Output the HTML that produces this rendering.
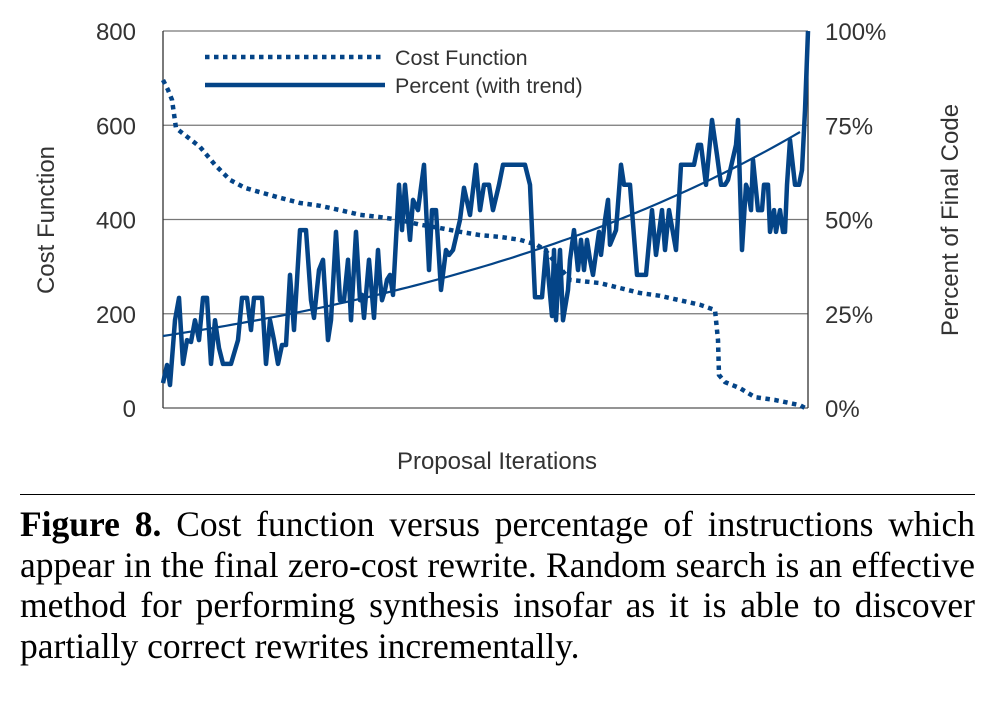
<!DOCTYPE html>
<html><head><meta charset="utf-8"><style>
body{margin:0;background:#fff;width:1004px;height:701px;overflow:hidden;position:relative}
svg{position:absolute;left:0;top:0}
.cap{position:absolute;left:20px;width:955px;top:504px;font-family:"Liberation Serif",serif;font-size:35.5px;line-height:40.5px;color:#000}
.cap div{text-align:justify;text-align-last:justify;white-space:nowrap;height:40.5px}
.cap div.last{text-align-last:left}
</style></head><body>
<svg id="chart" width="1004" height="500" font-family="Liberation Sans, sans-serif"></svg>
<div style="position:absolute;left:20px;top:494px;width:955px;height:1px;background:#000"></div>
<div class="cap">
<div><b>Figure 8.</b> Cost function versus percentage of instructions which</div>
<div>appear in the final zero-cost rewrite. Random search is an effective</div>
<div>method for performing synthesis insofar as it is able to discover</div>
<div class="last">partially correct rewrites incrementally.</div>
</div>
<script>
const leftTicks=[0,200,400,600,800];
const rightTicks=["0%","25%","50%","75%","100%"];
const costIter=[0,5,9,13,22,37,52,67,82,97,117,137,157,177,197,217,237,257,277,297,317,337,357,374,382,407,437,477,497,537,552,555,556,562,577,592,612,637,642];
const costVal=[696,675,654,594,579,554,516,484,467,458,446,435,429,420,410,405,399,389,382,374,367,363,357,346,335,272,265,244,238,219,208,144,70,55,42,23,17,6,0];
const pctIter=[0,4,7,12,16,20,24,28,32,36,40,44,48,52,56,60,68,75,79,84,88,91,99,103,107,111,115,119,123,127,131,137,143,148,151,156,160,165,168,173,177,181,185,188,193,197,199,201,206,209,211,215,217,219,222,224,227,230,236,239,242,247,250,255,261,266,269,273,278,283,286,290,297,301,307,313,317,321,326,330,336,340,362,367,372,379,383,389,391,393,397,400,405,407,411,415,418,421,424,427,430,436,438,442,445,447,453,458,461,467,474,483,489,493,499,502,506,513,518,527,531,535,538,543,549,554,558,562,565,573,575,579,583,585,588,590,595,599,601,605,607,611,613,617,620,622,624,627,632,636,639,642,645];
const pctVal=[6.6,11.4,6.1,23.3,29.2,11.7,18,17.5,23.3,18,29.2,29.2,11.7,23.3,15.9,11.7,11.7,18,29.2,29.2,20.7,29.2,29.2,11.7,23.3,18,11.7,16.7,16.7,35.3,20.7,47.2,47.2,28.6,23.9,36.6,39.3,18,23.3,46.7,28.6,28.6,39.3,23.3,46.7,28.6,30,23.9,39.3,30,23.9,41.9,34,28.6,31.3,34,35.3,30,59.2,47.2,59.2,44.6,55.2,52.5,64.5,36.6,52.5,52.5,31.3,41.9,40.6,41.9,49.9,58.4,51.2,64.5,52.5,59.2,59.2,52.5,59.2,64.5,64.5,59.2,29.4,29.4,41.9,24.4,41.9,23.3,41.9,23.3,31.3,39.3,47.2,36.6,44.6,36.6,44.6,39.3,35.3,46.7,40.6,49.9,55.2,43.3,47.2,64.5,59.2,59.2,35.3,35.3,52.5,40.6,52.5,41.9,52.5,41.9,64.5,64.5,64.5,69.8,69.8,59.2,76.4,67.1,59.2,59.2,60.5,69.8,76.4,41.9,59.2,57.8,52.5,65.8,52.5,52.5,59.2,59.2,46.7,52.5,46.7,52.5,46.7,46.7,59.2,71.1,59.2,59.2,63.1,79,100];
const trendIter=[0,637];
const trendVal=[19.1,73.2];
const NS="http://www.w3.org/2000/svg";
const svg=document.getElementById('chart');
const X0=163,X1=808,YB=408,YT=31,IMAX=645;
const xs=i=>X0+i/IMAX*(X1-X0);
const yL=v=>YB-v/800*(YB-YT);
const yR=p=>YB-p/100*(YB-YT);
function mk(t,a,txt){const e=document.createElementNS(NS,t);for(const k in a)e.setAttribute(k,a[k]);if(txt!==undefined)e.textContent=txt;svg.appendChild(e);return e;}
leftTicks.forEach((v,k)=>{
 const g=mk('line',{x1:X0,x2:X1,y1:yL(v),y2:yL(v),stroke:v===0?'#555':'#777','stroke-width':1.3});
 
 
 const t=mk('text',{x:136,y:yL(v)+9,'text-anchor':'end','font-size':24,fill:'#333'},v);
 
 
 const r=mk('text',{x:825,y:yR(k*25)+9,'font-size':24,fill:'#333'},rightTicks[k]);
 
 
});
let a=mk('line',{x1:X0,x2:X0,y1:YT,y2:YB,stroke:'#333','stroke-width':1.3});
a=mk('line',{x1:X1,x2:X1,y1:YT,y2:YB,stroke:'#333','stroke-width':1.3});
a=mk('text',{x:0,y:0,transform:'translate(54,220) rotate(-90)','text-anchor':'middle','font-size':24,fill:'#333'},'Cost Function');
a=mk('text',{x:0,y:0,transform:'translate(958,220) rotate(-90)','text-anchor':'middle','font-size':24,fill:'#333'},'Percent of Final Code');
a=mk('text',{x:497,y:469,'text-anchor':'middle','font-size':24,fill:'#333'},'Proposal Iterations');
let d=costIter.map((i,k)=>(k?'L':'M')+xs(i).toFixed(1)+','+yL(costVal[k]).toFixed(1)).join(' ');
a=mk('path',{d:d,fill:'none',stroke:'#044487','stroke-width':4.5,'stroke-dasharray':'4.5 4.5'});
d=pctIter.map((i,k)=>(k?'L':'M')+xs(i).toFixed(1)+','+yR(pctVal[k]).toFixed(1)).join(' ');
a=mk('path',{d:d,fill:'none',stroke:'#044487','stroke-width':4.5,'stroke-linejoin':'round'});
const b=Math.log(trendVal[1]/trendVal[0])/(trendIter[1]-trendIter[0]);
let td='';for(let i=trendIter[0];i<=trendIter[1];i+=7){td+=(td?'L':'M')+xs(i).toFixed(1)+','+yR(trendVal[0]*Math.exp(b*(i-trendIter[0]))).toFixed(1);}
td+='L'+xs(trendIter[1]).toFixed(1)+','+yR(trendVal[1]).toFixed(1);
a=mk('path',{d:td,fill:'none',stroke:'#044487','stroke-width':2.2});
a=mk('line',{x1:205,x2:385,y1:57,y2:57,stroke:'#044487','stroke-width':4.5,'stroke-dasharray':'4.5 4.5'});
a=mk('text',{x:395,y:65,'font-size':21.5,fill:'#333'},'Cost Function');
a=mk('line',{x1:205,x2:385,y1:85,y2:85,stroke:'#044487','stroke-width':4.5});
a=mk('text',{x:395,y:93,'font-size':21.5,fill:'#333'},'Percent (with trend)');
</script>
</body></html>
